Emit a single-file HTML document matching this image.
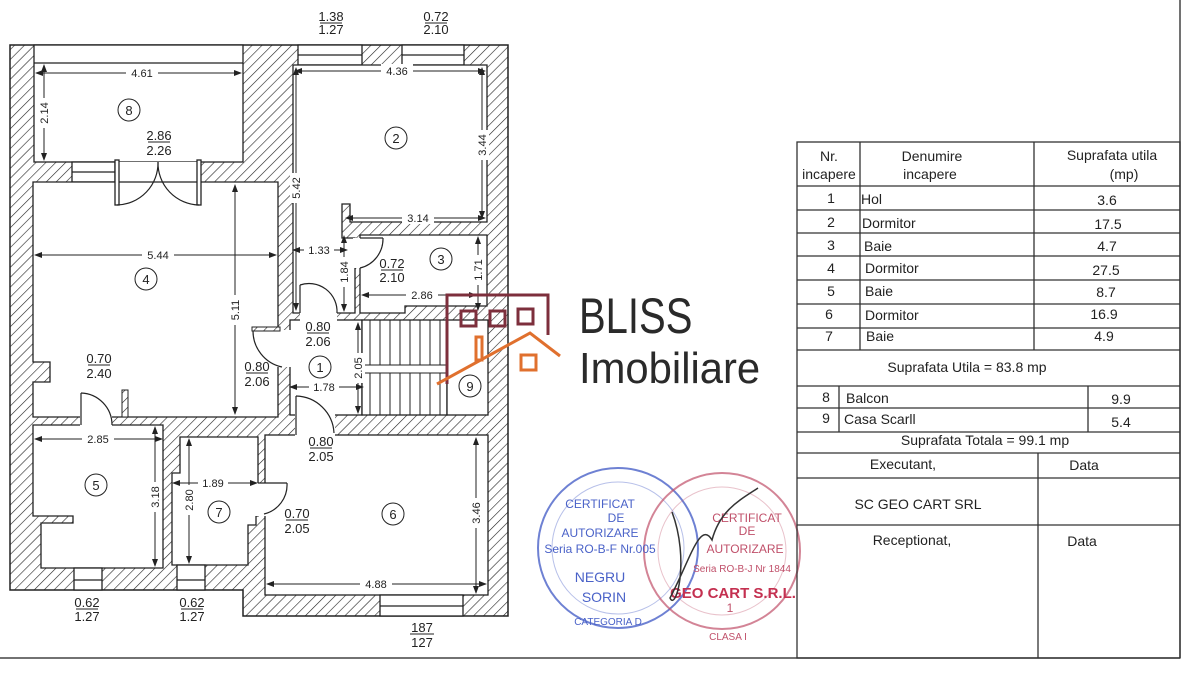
<!DOCTYPE html>
<html><head><meta charset="utf-8"><style>
html,body{margin:0;padding:0;background:#fff;}
svg{display:block;}
text{font-family:"Liberation Sans",sans-serif;fill:#222;}
.d{font-size:11px;}
.f{font-size:13px;}
.t{font-size:14px;}
</style></head><body>
<svg width="1200" height="680" viewBox="0 0 1200 680" xmlns="http://www.w3.org/2000/svg">
<defs>
<pattern id="h" width="7" height="7" patternUnits="userSpaceOnUse" patternTransform="rotate(45)">
<rect width="7" height="7" fill="#fff"/><line x1="0" y1="0" x2="0" y2="7" stroke="#222" stroke-width="1.2"/>
</pattern>
<marker id="a" markerWidth="8" markerHeight="6" refX="7" refY="3" orient="auto-start-reverse" markerUnits="userSpaceOnUse"><path d="M0,0 L8,3 L0,6z" fill="#222"/></marker>
</defs>
<polygon points="10,45 508,45 508,616 243,616 243,590 10,590" fill="url(#h)" stroke="#222" stroke-width="1.5"/>
<g fill="#fff" stroke="#222" stroke-width="1.3">
<rect x="34" y="45" width="209" height="117"/>
<line x1="34" y1="63" x2="243" y2="63"/>
<rect x="72" y="162" width="43" height="20"/>
<line x1="72" y1="172" x2="115" y2="172"/>
<rect x="115" y="162" width="85" height="20" stroke="none"/>
<polygon points="33,182 278,182 278,417 33,417 33,382 50,382 50,362 33,362"/>
<rect x="115" y="160" width="4" height="45"/>
<rect x="197" y="160" width="4" height="45"/>
<rect x="298" y="45" width="64" height="20"/><line x1="298" y1="55" x2="362" y2="55"/>
<rect x="402" y="45" width="62" height="20"/><line x1="402" y1="55" x2="464" y2="55"/>
<polygon points="293,65 487,65 487,222 350,222 350,204 342,204 342,238 355,238 355,313 293,313"/>
<polygon points="360,235 487,235 487,306 405,306 405,313 360,313"/>
<rect x="353" y="238" width="9" height="30" stroke="none"/>
<rect x="290" y="320" width="72" height="95"/>
<rect x="300" y="311" width="37" height="11" stroke="none"/>
<rect x="276" y="330" width="18" height="37" stroke="none"/>
<rect x="362" y="320" width="85" height="95"/>
<rect x="447" y="320" width="41" height="95"/>
<polygon points="33,425 163,425 163,568 41,568 41,523 73,523 73,516 33,516"/>
<rect x="80" y="415" width="32" height="12" stroke="none"/>
<polygon points="180,437 258,437 258,516 256,516 256,525 248,525 248,565 172,565 172,473 180,473"/>
<rect x="265" y="435" width="223" height="160"/>
<rect x="295" y="413" width="40" height="24" stroke="none"/>
<rect x="254" y="483" width="14" height="33" stroke="none"/>
<rect x="74" y="568" width="28" height="22"/><line x1="74" y1="580" x2="102" y2="580"/>
<rect x="177" y="565" width="28" height="25"/><line x1="177" y1="580" x2="205" y2="580"/>
<rect x="380" y="595" width="83" height="21"/><line x1="380" y1="606" x2="463" y2="606"/>
</g>
<g stroke="#222" stroke-width="1">
<line x1="370" y1="320" x2="370" y2="415"/><line x1="380" y1="320" x2="380" y2="415"/><line x1="390" y1="320" x2="390" y2="415"/><line x1="400" y1="320" x2="400" y2="415"/><line x1="410" y1="320" x2="410" y2="415"/><line x1="420" y1="320" x2="420" y2="415"/><line x1="430" y1="320" x2="430" y2="415"/><line x1="440" y1="320" x2="440" y2="415"/>
</g>
<rect x="363" y="365" width="83" height="8" fill="#fff" stroke="#222"/>
<g fill="none" stroke="#222" stroke-width="1.2">
<path d="M117,205 A42,42 0 0 0 158,162"/>
<path d="M199,205 A42,42 0 0 1 158,162"/>
<line x1="300" y1="313" x2="300" y2="285"/><path d="M300,285 A28,28 0 0 1 337,313"/>
<line x1="360" y1="238" x2="383" y2="238"/><path d="M383,238 A30,30 0 0 1 360,268"/>
<path d="M253,330 A37,37 0 0 0 282,367"/>
<line x1="81" y1="425" x2="81" y2="393"/><path d="M81,393 A32,32 0 0 1 112,425"/>
<line x1="296" y1="435" x2="296" y2="396"/><path d="M296,396 A39,39 0 0 1 334,433"/>
<line x1="258" y1="483" x2="287" y2="483"/><path d="M287,483 A30,30 0 0 1 264,514"/>
</g>
<rect x="252" y="327" width="28" height="4" fill="url(#h)" stroke="#222"/>
<rect x="122" y="390" width="6" height="27" fill="url(#h)" stroke="#222"/>
<g stroke="#222" stroke-width="1" marker-start="url(#a)" marker-end="url(#a)">
<line x1="36" y1="73" x2="241" y2="73"/>
<line x1="44" y1="65" x2="44" y2="160"/>
<line x1="295" y1="71" x2="485" y2="71"/>
<line x1="482" y1="68" x2="482" y2="218"/>
<line x1="296" y1="68" x2="296" y2="310"/>
<line x1="346" y1="218" x2="485" y2="218"/>
<line x1="35" y1="255" x2="276" y2="255"/>
<line x1="235" y1="185" x2="235" y2="414"/>
<line x1="293" y1="250" x2="347" y2="250"/>
<line x1="344" y1="236" x2="344" y2="311"/>
<line x1="478" y1="237" x2="478" y2="310"/>
<line x1="362" y1="295" x2="476" y2="295"/>
<line x1="358" y1="323" x2="358" y2="413"/>
<line x1="290" y1="387" x2="363" y2="387"/>
<line x1="35" y1="439" x2="162" y2="439"/>
<line x1="155" y1="427" x2="155" y2="566"/>
<line x1="173" y1="483" x2="257" y2="483"/>
<line x1="189" y1="439" x2="189" y2="563"/>
<line x1="476" y1="438" x2="476" y2="593"/>
<line x1="267" y1="584" x2="486" y2="584"/>
</g>
<g class="d" text-anchor="middle">
<rect x="126" y="66" width="32" height="13" fill="#fff"/><text x="142" y="77">4.61</text>
<rect x="381" y="64" width="32" height="13" fill="#fff"/><text x="397" y="75">4.36</text>
<rect x="402" y="211" width="32" height="13" fill="#fff"/><text x="418" y="222">3.14</text>
<rect x="142" y="248" width="32" height="13" fill="#fff"/><text x="158" y="259">5.44</text>
<rect x="304" y="243" width="30" height="13" fill="#fff"/><text x="319" y="254">1.33</text>
<rect x="406" y="288" width="32" height="13" fill="#fff"/><text x="422" y="299">2.86</text>
<rect x="309" y="380" width="30" height="13" fill="#fff"/><text x="324" y="391">1.78</text>
<rect x="82" y="432" width="32" height="13" fill="#fff"/><text x="98" y="443">2.85</text>
<rect x="198" y="476" width="30" height="13" fill="#fff"/><text x="213" y="487">1.89</text>
<rect x="360" y="577" width="32" height="13" fill="#fff"/><text x="376" y="588">4.88</text>
<g transform="translate(48,113) rotate(-90)"><rect x="-15" y="-10" width="30" height="13" fill="#fff"/><text>2.14</text></g>
<g transform="translate(486,145) rotate(-90)"><rect x="-15" y="-10" width="30" height="13" fill="#fff"/><text>3.44</text></g>
<g transform="translate(300,188) rotate(-90)"><rect x="-15" y="-10" width="30" height="13" fill="#fff"/><text>5.42</text></g>
<g transform="translate(239,310) rotate(-90)"><rect x="-15" y="-10" width="30" height="13" fill="#fff"/><text>5.11</text></g>
<g transform="translate(348,272) rotate(-90)"><rect x="-15" y="-10" width="30" height="13" fill="#fff"/><text>1.84</text></g>
<g transform="translate(482,270) rotate(-90)"><rect x="-15" y="-10" width="30" height="13" fill="#fff"/><text>1.71</text></g>
<g transform="translate(362,368) rotate(-90)"><rect x="-15" y="-10" width="30" height="13" fill="#fff"/><text>2.05</text></g>
<g transform="translate(159,497) rotate(-90)"><rect x="-15" y="-10" width="30" height="13" fill="#fff"/><text>3.18</text></g>
<g transform="translate(193,500) rotate(-90)"><rect x="-15" y="-10" width="30" height="13" fill="#fff"/><text>2.80</text></g>
<g transform="translate(480,513) rotate(-90)"><rect x="-15" y="-10" width="30" height="13" fill="#fff"/><text>3.46</text></g>
</g>
<g class="f" text-anchor="middle">
<text x="331" y="21">1.38</text><line x1="320" y1="23" x2="342" y2="23" stroke="#222"/><text x="331" y="34">1.27</text>
<text x="436" y="21">0.72</text><line x1="425" y1="23" x2="447" y2="23" stroke="#222"/><text x="436" y="34">2.10</text>
<text x="159" y="140">2.86</text><line x1="148" y1="142" x2="170" y2="142" stroke="#222"/><text x="159" y="155">2.26</text>
<text x="392" y="268">0.72</text><line x1="381" y1="270" x2="403" y2="270" stroke="#222"/><text x="392" y="282">2.10</text>
<text x="318" y="331">0.80</text><line x1="307" y1="333" x2="329" y2="333" stroke="#222"/><text x="318" y="346">2.06</text>
<text x="257" y="371">0.80</text><line x1="246" y1="373" x2="268" y2="373" stroke="#222"/><text x="257" y="386">2.06</text>
<text x="99" y="363">0.70</text><line x1="88" y1="365" x2="110" y2="365" stroke="#222"/><text x="99" y="378">2.40</text>
<text x="321" y="446">0.80</text><line x1="310" y1="448" x2="332" y2="448" stroke="#222"/><text x="321" y="461">2.05</text>
<text x="297" y="518">0.70</text><line x1="286" y1="520" x2="308" y2="520" stroke="#222"/><text x="297" y="533">2.05</text>
<text x="87" y="607">0.62</text><line x1="76" y1="609" x2="98" y2="609" stroke="#222"/><text x="87" y="621">1.27</text>
<text x="192" y="607">0.62</text><line x1="181" y1="609" x2="203" y2="609" stroke="#222"/><text x="192" y="621">1.27</text>
<text x="422" y="632">187</text><line x1="410" y1="634" x2="434" y2="634" stroke="#222"/><text x="422" y="647">127</text>
</g>
<g fill="#fff" stroke="#222" stroke-width="1">
<circle cx="129" cy="110" r="11"/><circle cx="396" cy="138" r="11"/><circle cx="146" cy="279" r="11"/><circle cx="441" cy="259" r="11"/><circle cx="320" cy="367" r="11"/><circle cx="470" cy="386" r="11"/><circle cx="96" cy="485" r="11"/><circle cx="219" cy="512" r="11"/><circle cx="393" cy="514" r="11"/>
</g>
<g class="f" text-anchor="middle">
<text x="129" y="115">8</text><text x="396" y="143">2</text><text x="146" y="284">4</text><text x="441" y="264">3</text><text x="320" y="372">1</text><text x="470" y="391">9</text><text x="96" y="490">5</text><text x="219" y="517">7</text><text x="393" y="519">6</text>
</g>
<g fill="none" stroke-width="3">
<polyline points="447,384 447,295 548,295 548,335" stroke="#7d2f3c"/>
<rect x="461" y="311" width="15" height="15" stroke="#7d2f3c"/>
<rect x="490" y="311" width="15" height="15" stroke="#7d2f3c"/>
<rect x="518" y="309" width="15" height="15" stroke="#7d2f3c"/>
<polyline points="437,384 530,333 560,356" stroke="#e0702e"/>
<rect x="476" y="337" width="6" height="23" stroke="#e0702e"/>
<rect x="521" y="355" width="15" height="15" stroke="#e0702e"/>
</g>
<text transform="translate(579,333) scale(0.8,1)" style="font-size:50px;fill:#2a2a2a">BLISS</text>
<text transform="translate(579,383) scale(0.95,1)" style="font-size:44px;fill:#2a2a2a">Imobiliare</text>
<g fill="none" stroke-width="2">
<circle cx="618" cy="548" r="80" stroke="#4a62c8" opacity="0.8"/>
<circle cx="618" cy="548" r="66" stroke="#4a62c8" opacity="0.4" stroke-width="1"/>
<circle cx="722" cy="551" r="78" stroke="#c0506a" opacity="0.7"/>
<circle cx="722" cy="551" r="64" stroke="#c0506a" opacity="0.35" stroke-width="1"/>
</g>
<g text-anchor="middle" style="font-size:12px">
<text x="600" y="508" style="fill:#4a62c8">CERTIFICAT</text>
<text x="616" y="522" style="fill:#4a62c8">DE</text>
<text x="600" y="537" style="fill:#4a62c8">AUTORIZARE</text>
<text x="600" y="553" style="fill:#4a62c8">Seria RO-B-F Nr.005</text>
<text x="600" y="582" style="fill:#4a62c8;font-size:14px">NEGRU</text>
<text x="604" y="602" style="fill:#4a62c8;font-size:14px">SORIN</text>
<text x="608" y="625" style="fill:#4a62c8;font-size:10px">CATEGORIA D</text>
<text x="747" y="522" style="fill:#c0506a">CERTIFICAT</text>
<text x="747" y="535" style="fill:#c0506a">DE</text>
<text x="745" y="553" style="fill:#c0506a">AUTORIZARE</text>
<text x="742" y="572" style="fill:#c0506a;font-size:10px">Seria RO-B-J Nr 1844</text>
<text x="733" y="598" style="fill:#c43050;font-size:15px;font-weight:bold">GEO CART S.R.L.</text>
<text x="730" y="612" style="fill:#c0506a">1</text>
<text x="728" y="640" style="fill:#c0506a;font-size:10px">CLASA I</text>
</g>
<path d="M672,512 C690,560 676,612 670,598 C690,560 700,520 712,540 C720,510 740,500 758,488" fill="none" stroke="#333" stroke-width="1.5"/>
<line x1="1180" y1="0" x2="1180" y2="658" stroke="#444" stroke-width="1.5"/>
<line x1="0" y1="658" x2="1180" y2="658" stroke="#444" stroke-width="1.5"/>
<g stroke="#333" stroke-width="1.3" fill="none">
<rect x="797" y="142" width="383" height="516"/>
<line x1="797" y1="186" x2="1180" y2="186"/>
<line x1="797" y1="210" x2="1180" y2="210"/>
<line x1="797" y1="233" x2="1180" y2="233"/>
<line x1="797" y1="256" x2="1180" y2="256"/>
<line x1="797" y1="280" x2="1180" y2="280"/>
<line x1="797" y1="304" x2="1180" y2="304"/>
<line x1="797" y1="328" x2="1180" y2="328"/>
<line x1="797" y1="350" x2="1180" y2="350"/>
<line x1="797" y1="386" x2="1180" y2="386"/>
<line x1="797" y1="408" x2="1180" y2="408"/>
<line x1="797" y1="432" x2="1180" y2="432"/>
<line x1="797" y1="453" x2="1180" y2="453"/>
<line x1="797" y1="478" x2="1180" y2="478"/>
<line x1="797" y1="525" x2="1180" y2="525"/>
<line x1="860" y1="142" x2="860" y2="350"/>
<line x1="1034" y1="142" x2="1034" y2="350"/>
<line x1="839" y1="386" x2="839" y2="432"/>
<line x1="1088" y1="386" x2="1088" y2="432"/>
<line x1="1038" y1="453" x2="1038" y2="658"/>
</g>
<g class="t">
<text x="829" y="161" text-anchor="middle">Nr.</text>
<text x="829" y="179" text-anchor="middle">incapere</text>
<text x="932" y="161" text-anchor="middle">Denumire</text>
<text x="930" y="179" text-anchor="middle">incapere</text>
<text x="1112" y="160" text-anchor="middle">Suprafata utila</text>
<text x="1124" y="179" text-anchor="middle">(mp)</text>
<text x="831" y="203" text-anchor="middle">1</text><text x="861" y="204">Hol</text><text x="1107" y="205" text-anchor="middle">3.6</text>
<text x="831" y="227" text-anchor="middle">2</text><text x="862" y="228">Dormitor</text><text x="1108" y="229" text-anchor="middle">17.5</text>
<text x="831" y="250" text-anchor="middle">3</text><text x="864" y="251">Baie</text><text x="1107" y="251" text-anchor="middle">4.7</text>
<text x="831" y="273" text-anchor="middle">4</text><text x="865" y="273">Dormitor</text><text x="1106" y="275" text-anchor="middle">27.5</text>
<text x="831" y="296" text-anchor="middle">5</text><text x="865" y="296">Baie</text><text x="1106" y="297" text-anchor="middle">8.7</text>
<text x="829" y="319" text-anchor="middle">6</text><text x="865" y="320">Dormitor</text><text x="1104" y="319" text-anchor="middle">16.9</text>
<text x="829" y="341" text-anchor="middle">7</text><text x="866" y="341">Baie</text><text x="1104" y="341" text-anchor="middle">4.9</text>
<text x="967" y="372" text-anchor="middle">Suprafata Utila = 83.8 mp</text>
<text x="826" y="402" text-anchor="middle">8</text><text x="846" y="403">Balcon</text><text x="1121" y="404" text-anchor="middle">9.9</text>
<text x="826" y="423" text-anchor="middle">9</text><text x="844" y="424">Casa Scarll</text><text x="1121" y="427" text-anchor="middle">5.4</text>
<text x="985" y="445" text-anchor="middle">Suprafata Totala = 99.1 mp</text>
<text x="903" y="469" text-anchor="middle">Executant,</text>
<text x="1084" y="470" text-anchor="middle">Data</text>
<text x="918" y="509" text-anchor="middle">SC GEO CART SRL</text>
<text x="912" y="545" text-anchor="middle">Receptionat,</text>
<text x="1082" y="546" text-anchor="middle">Data</text>
</g>
</svg>
</body></html>
